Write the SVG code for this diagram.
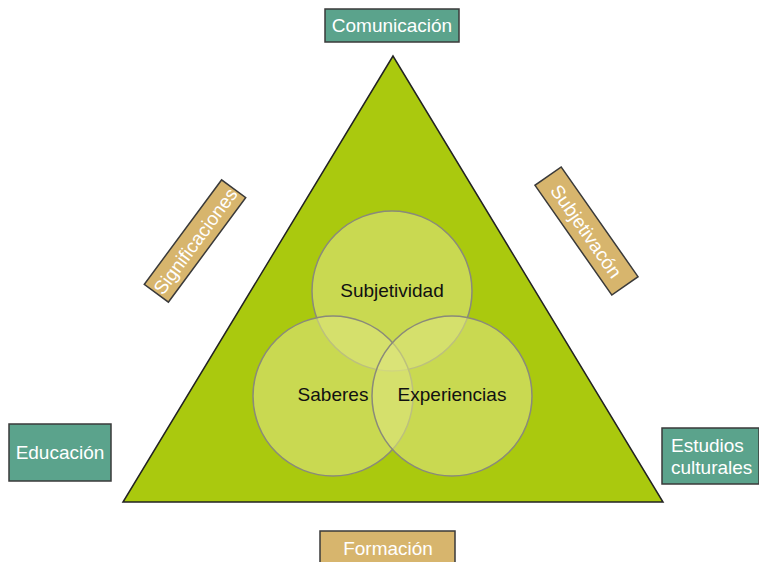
<svg xmlns="http://www.w3.org/2000/svg" width="759" height="562" viewBox="0 0 759 562">
<style>
.teal{fill:#5ba38c;stroke:#3a3a3a;stroke-width:1.5}
.tan{fill:#d7b56d;stroke:#3a3a3a;stroke-width:1.5}
.lbl{font-family:"Liberation Sans",Arial,sans-serif;font-size:19px;fill:#ffffff;text-anchor:middle}
.circ{fill:#dde47e;fill-opacity:0.6;stroke:#8a8a7a;stroke-width:1.5}
.ctext{font-family:"Liberation Sans",Arial,sans-serif;font-size:19px;fill:#111111;text-anchor:middle}
</style>
<rect width="759" height="562" fill="#ffffff"/>
<g id="triangle">
<polygon points="393,56 123,502 663,502" fill="#aac90e" stroke="#222" stroke-width="1.5"/>
</g>
<g id="circles">
<g id="subjetividad"><circle class="circ" cx="392" cy="291" r="80"/></g>
<g id="saberes"><circle class="circ" cx="333" cy="396" r="80"/></g>
<g id="experiencias"><circle class="circ" cx="452" cy="396" r="80"/></g>
<text class="ctext" x="392" y="297">Subjetividad</text>
<text class="ctext" x="333" y="401">Saberes</text>
<text class="ctext" x="452" y="401">Experiencias</text>
</g>
<g id="comunicacion">
<rect class="teal" x="325" y="9" width="134" height="33"/>
<text class="lbl" x="392" y="32">Comunicación</text>
</g>
<g id="educacion">
<rect class="teal" x="9" y="424" width="102" height="57"/>
<text class="lbl" x="60" y="459">Educación</text>
</g>
<g id="estudios">
<rect class="teal" x="662" y="428" width="97" height="56"/>
<text class="lbl" x="671" y="452" style="text-anchor:start">Estudios</text>
<text class="lbl" x="671" y="474" style="text-anchor:start">culturales</text>
</g>
<g id="formacion">
<rect class="tan" x="320" y="531" width="135" height="40"/>
<text class="lbl" x="388" y="555">Formación</text>
</g>
<g id="significaciones" transform="translate(195,241) rotate(-53.5)">
<rect class="tan" x="-65" y="-15" width="130" height="30"/>
<text class="lbl" x="0" y="7">Significaciones</text>
</g>
<g id="subjetivacion" transform="translate(586.5,231) rotate(55)">
<rect class="tan" x="-67" y="-16" width="134" height="32"/>
<text class="lbl" x="0" y="7">Subjetivacón</text>
</g>
</svg>
